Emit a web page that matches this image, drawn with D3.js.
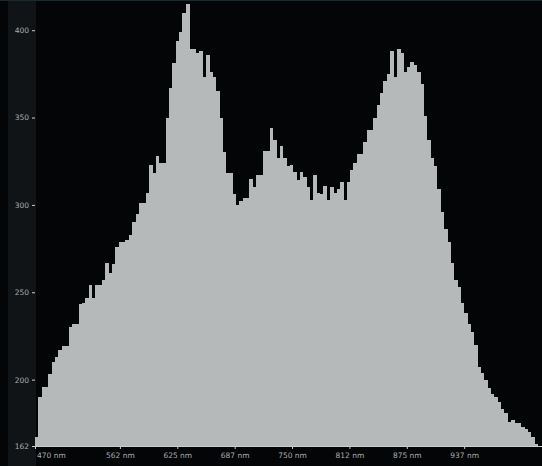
<!DOCTYPE html>
<html>
<head>
<meta charset="utf-8">
<script src="https://cdn.jsdelivr.net/npm/d3@7.9.0/dist/d3.min.js"></script>
<style>
  html, body { margin: 0; padding: 0; background: #040506; }
  svg { display: block; }
  .tick text { font-family: "DejaVu Sans", sans-serif; }
</style>
</head>
<body>
<svg id="chart" width="542" height="466"></svg>
<script>
// spectrum histogram, bins start at 470 nm
const binStart = 470;
const binWidth = 3.65; // nm
const counts = [
  167, 190, 196, 196, 203, 210, 213, 217, 219, 219,
  230, 232, 232, 243, 244, 247, 254, 247, 254, 254,
  257, 267, 261, 266, 276, 279, 279, 280, 283, 290,
  295, 301, 301, 307, 323, 318, 328, 324, 324, 350,
  367, 381, 394, 399, 410, 415, 389, 389, 387, 388,
  373, 386, 376, 373, 365, 350, 330, 318, 318, 306,
  300, 302, 304, 304, 315, 310, 317, 317, 331, 331,
  344, 337, 327, 334, 327, 322, 323, 319, 314, 319,
  316, 310, 303, 317, 307, 306, 311, 303, 310, 307,
  309, 313, 303, 313, 320, 324, 329, 329, 336, 343,
  343, 350, 357, 364, 371, 375, 388, 373, 389, 387,
  376, 379, 382, 380, 376, 369, 351, 337, 327, 322,
  309, 296, 286, 279, 267, 257, 253, 244, 238, 232,
  227, 220, 207, 204, 200, 195, 192, 190, 187, 183,
  181, 176, 177, 175, 175, 173, 172, 170, 167, 163
];
const xTickValues = [470, 562.5, 625, 687.5, 750, 812.5, 875, 937.5];
const yTickValues = [162, 200, 250, 300, 350, 400];

const width = 542, height = 466;
const svg = d3.select('#chart');

// left axis panel
svg.append('rect').attr('x', 8).attr('y', 0).attr('width', 28).attr('height', height)
  .attr('fill', '#101417');
svg.append('rect').attr('x', 0).attr('y', 0).attr('width', width).attr('height', 1)
  .attr('fill', '#1a2a33');

const x = d3.scaleLinear().domain([470, 1022.3]).range([35, 542]);
const y = d3.scaleLinear().domain([162, 415]).range([446, 4]);

const bins = counts.map((c, i) => ({ x0: binStart + i * binWidth, value: c }));

svg.append('g')
  .selectAll('rect')
  .data(bins)
  .join('rect')
  .attr('x', d => x(d.x0))
  .attr('y', d => y(d.value))
  .attr('width', x(binStart + binWidth) - x(binStart) + 0.4)
  .attr('height', d => y(162) - y(d.value))
  .attr('fill', '#b5b9ba')
  .attr('shape-rendering', 'crispEdges');

// x axis
const xAxis = svg.append('g')
  .attr('transform', `translate(0,${y(162)})`)
  .call(d3.axisBottom(x).tickValues(xTickValues).tickSize(3).tickPadding(4)
    .tickFormat(d => Math.floor(d) + ' nm'));
xAxis.select('.domain').attr('stroke', '#c8cccd').attr('stroke-width', 1);
xAxis.selectAll('.tick line').attr('stroke', '#c8cccd');
xAxis.selectAll('.tick text').attr('fill', '#a9adb0').attr('font-size', 7.5);
// first label sits to the right of the axis start
xAxis.selectAll('.tick text').filter(d => d === xTickValues[0])
  .attr('text-anchor', 'start').attr('dx', '0.2em');

// y axis
const yAxis = svg.append('g')
  .attr('transform', `translate(35,0)`)
  .call(d3.axisLeft(y).tickValues(yTickValues).tickSize(3).tickPadding(3));
yAxis.select('.domain').remove();
yAxis.selectAll('.tick line').attr('stroke', '#c8cccd');
yAxis.selectAll('.tick text').attr('fill', '#a9adb0').attr('font-size', 7.5);
</script>
</body>
</html>
